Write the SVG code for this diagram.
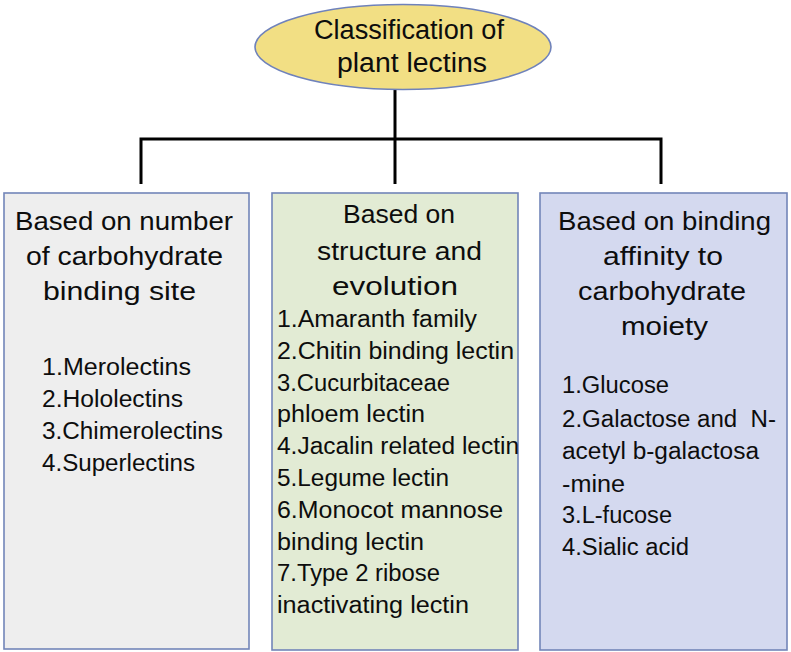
<svg xmlns="http://www.w3.org/2000/svg" width="791" height="652" viewBox="0 0 791 652">
<style>
  text { font-family: "Liberation Sans", Arial, sans-serif; fill: #0d0d0d; }
  .h { font-size: 26px; }
  .l { font-size: 23px; }
  .t { font-size: 27px; }
  .box { stroke: #7285b8; stroke-width: 1.6; }
  .conn { fill: none; stroke: #000; stroke-width: 3; stroke-linejoin: miter; }
</style>
<rect width="791" height="652" fill="#ffffff"/>
<g id="connectors">
  <path class="conn" d="M395,90 V184"/>
  <path class="conn" d="M141,184 V139 H661 V184"/>
</g>
<g id="root">
  <ellipse cx="403" cy="47" rx="148" ry="42.5" fill="#f2df84" stroke="#6f82bb" stroke-width="1.6"/>
  <text class="t" x="314" y="39" textLength="190" lengthAdjust="spacingAndGlyphs">Classification of</text>
  <text class="t" x="337" y="72" textLength="150" lengthAdjust="spacingAndGlyphs">plant lectins</text>
</g>
<g id="box-number">
  <rect class="box" x="4" y="193" width="245" height="456" fill="#eeeeee"/>
  <text class="h" x="15" y="230" textLength="218" lengthAdjust="spacingAndGlyphs">Based on number</text>
  <text class="h" x="26" y="265" textLength="197" lengthAdjust="spacingAndGlyphs">of carbohydrate</text>
  <text class="h" x="43" y="300" textLength="153" lengthAdjust="spacingAndGlyphs">binding site</text>
  <text class="l" x="42" y="375" textLength="149" lengthAdjust="spacingAndGlyphs">1.Merolectins</text>
  <text class="l" x="42" y="407" textLength="141" lengthAdjust="spacingAndGlyphs">2.Hololectins</text>
  <text class="l" x="42" y="439" textLength="181" lengthAdjust="spacingAndGlyphs">3.Chimerolectins</text>
  <text class="l" x="42" y="471" textLength="153" lengthAdjust="spacingAndGlyphs">4.Superlectins</text>
</g>
<g id="box-structure">
  <rect class="box" x="272" y="193" width="246" height="457" fill="#e2ebd4"/>
  <text class="h" x="343" y="223" textLength="112" lengthAdjust="spacingAndGlyphs">Based on</text>
  <text class="h" x="317" y="260" textLength="165" lengthAdjust="spacingAndGlyphs">structure and</text>
  <text class="h" x="332" y="295" textLength="126" lengthAdjust="spacingAndGlyphs">evolution</text>
  <text class="l" x="277" y="327" textLength="200" lengthAdjust="spacingAndGlyphs">1.Amaranth family</text>
  <text class="l" x="277" y="358.8" textLength="237" lengthAdjust="spacingAndGlyphs">2.Chitin binding lectin</text>
  <text class="l" x="277" y="390.6" textLength="173" lengthAdjust="spacingAndGlyphs">3.Cucurbitaceae</text>
  <text class="l" x="277" y="422.4" textLength="148" lengthAdjust="spacingAndGlyphs">phloem lectin</text>
  <text class="l" x="277" y="454.2" textLength="242" lengthAdjust="spacingAndGlyphs">4.Jacalin related lectin</text>
  <text class="l" x="277" y="486" textLength="172" lengthAdjust="spacingAndGlyphs">5.Legume lectin</text>
  <text class="l" x="277" y="517.8" textLength="226" lengthAdjust="spacingAndGlyphs">6.Monocot mannose</text>
  <text class="l" x="277" y="549.6" textLength="147" lengthAdjust="spacingAndGlyphs">binding lectin</text>
  <text class="l" x="277" y="581.4" textLength="163" lengthAdjust="spacingAndGlyphs">7.Type 2 ribose</text>
  <text class="l" x="277" y="613.2" textLength="192" lengthAdjust="spacingAndGlyphs">inactivating lectin</text>
</g>
<g id="box-affinity">
  <rect class="box" x="540" y="193" width="247" height="457" fill="#d4d9ef"/>
  <text class="h" x="558" y="230" textLength="213" lengthAdjust="spacingAndGlyphs">Based on binding</text>
  <text class="h" x="603" y="265" textLength="120" lengthAdjust="spacingAndGlyphs">affinity to</text>
  <text class="h" x="578" y="300" textLength="168" lengthAdjust="spacingAndGlyphs">carbohydrate</text>
  <text class="h" x="621" y="335" textLength="87" lengthAdjust="spacingAndGlyphs">moiety</text>
  <text class="l" x="562" y="393" textLength="107" lengthAdjust="spacingAndGlyphs">1.Glucose</text>
  <text class="l" x="562" y="426.5" textLength="214" lengthAdjust="spacingAndGlyphs" xml:space="preserve">2.Galactose and  N-</text>
  <text class="l" x="562" y="459" textLength="197" lengthAdjust="spacingAndGlyphs">acetyl b-galactosa</text>
  <text class="l" x="562" y="491.5" textLength="63" lengthAdjust="spacingAndGlyphs">-mine</text>
  <text class="l" x="562" y="523" textLength="110" lengthAdjust="spacingAndGlyphs">3.L-fucose</text>
  <text class="l" x="562" y="555" textLength="127" lengthAdjust="spacingAndGlyphs">4.Sialic acid</text>
</g>
</svg>
